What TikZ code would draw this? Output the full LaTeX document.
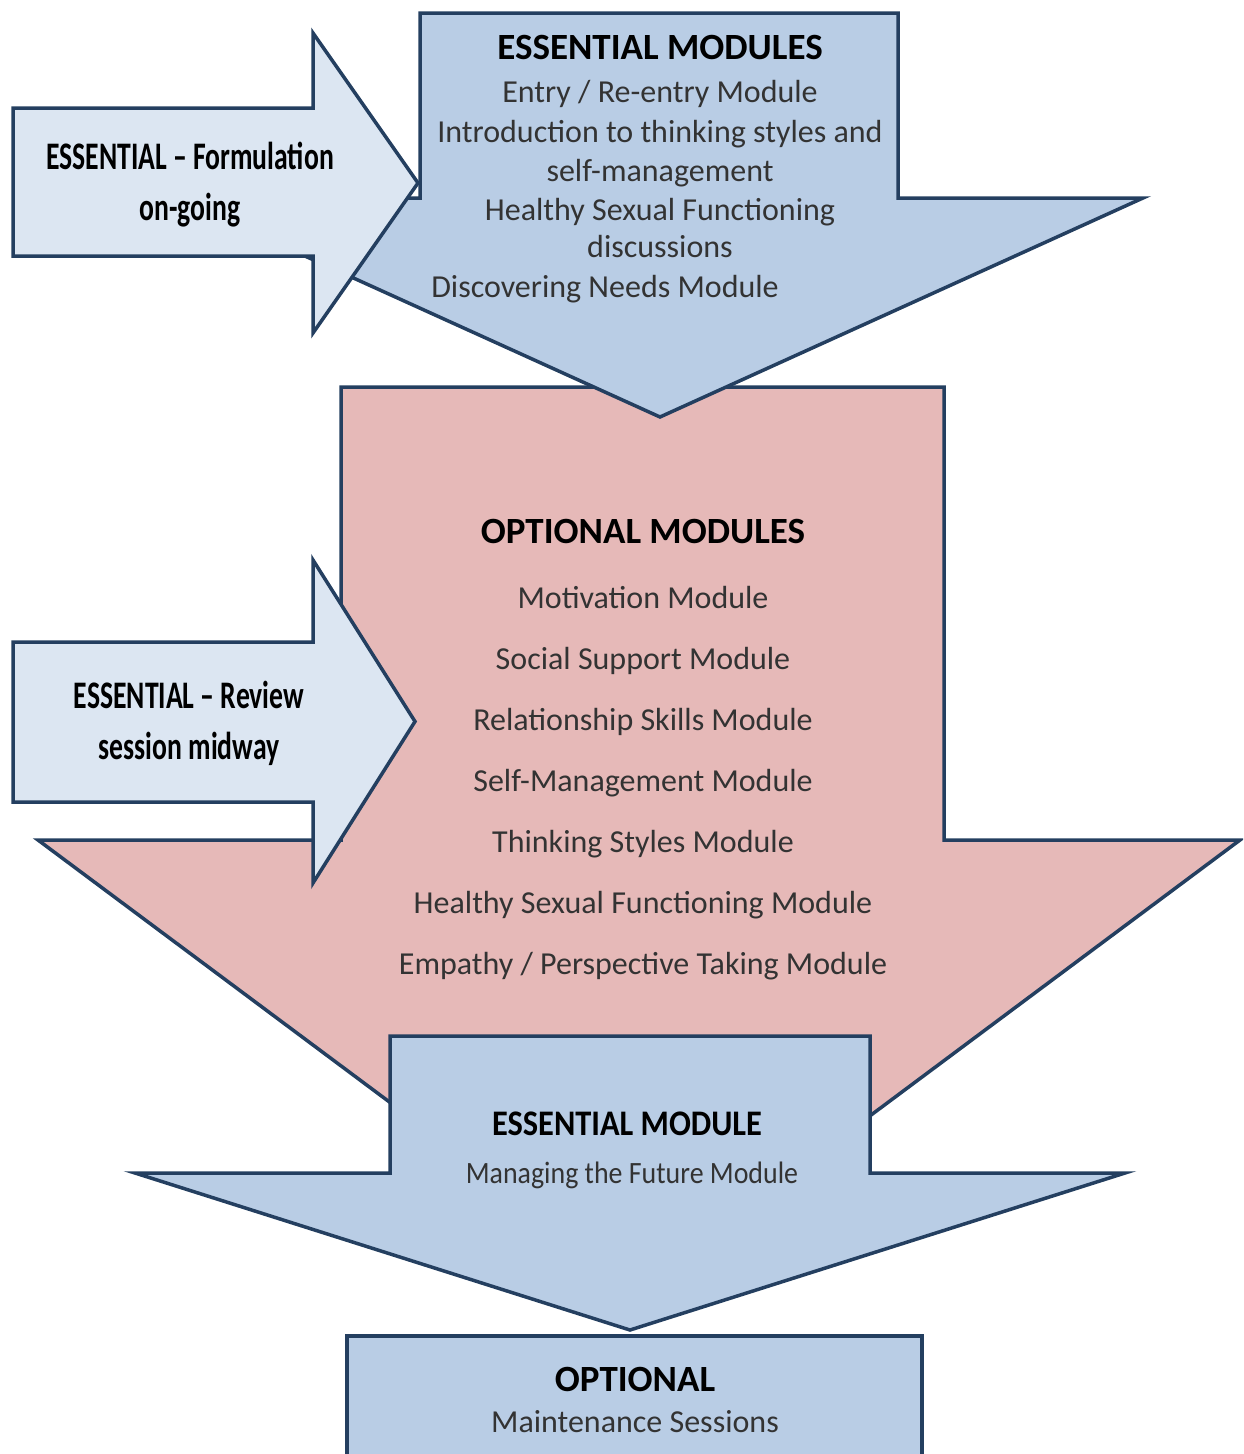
\documentclass[tikz,border=0pt]{standalone}
\usepackage{fontspec}
\setmainfont{Carlito}
\newfontfamily\sidefont[FakeStretch=0.71]{Carlito}
\newfontfamily\lowfont[FakeStretch=0.9]{Carlito}

\definecolor{modedge}{HTML}{243F60}
\definecolor{modblue}{HTML}{B9CDE5}
\definecolor{modpale}{HTML}{DCE6F2}
\definecolor{modpink}{HTML}{E6B9B8}

\newcommand\modborder{[line width=3.5pt, draw=modedge, line join=miter]}
\newcommand\modtitlestyle{\fontsize{37}{44}\selectfont\bfseries\color{black}}
\newcommand\moditemstyle{\fontsize{32}{39}\selectfont\color{black!80}}
\newcommand\modsidestyle{\sidefont\fontsize{39}{48}\selectfont\bfseries\color{black}}
\newcommand\modlowtitlestyle{\lowfont\fontsize{36}{42}\selectfont\bfseries\color{black}}
\newcommand\modlowitemstyle{\lowfont\fontsize{31}{38}\selectfont\color{black!80}}

% fill, shaft left, shaft right, top, head y, head left, head right, tip y
\newcommand\moddownarrow[8]{
  \draw\modborder[fill=#1] (#2,#4) -- (#3,#4) -- (#3,#5) -- (#7,#5)
    -- ({(#6+#7)/2},#8) -- (#6,#5) -- (#2,#5) -- cycle ;
}
% left, shaft right, shaft top, shaft bottom, head top, head bottom, tip x
\newcommand\modrightarrow[7]{
  \draw\modborder[fill=modpale] (#1,#3) -- (#2,#3) -- (#2,#5)
    -- (#7,{(#5+#6)/2}) -- (#2,#6) -- (#2,#4) -- (#1,#4) -- cycle ;
}

\begin{document}
\begin{tikzpicture}[x=1pt, y=-1pt, every node/.style={anchor=mid, yshift=-9pt, inner sep=0pt}]
    \useasboundingbox (0,0) rectangle (1243,1454) ;
    \clip (0,0) rectangle (1243,1454) ;
    \moddownarrow{modpink}{341}{944}{387}{840}{38}{1240}{1288}
    \moddownarrow{modblue}{420}{898}{13}{198}{177}{1143}{417}
    \modrightarrow{13}{313}{108}{256}{33}{333}{418}
    \modrightarrow{13}{313}{642}{802}{560}{883}{415}
    \moddownarrow{modblue}{390}{870}{1036}{1173}{135}{1125}{1330}
    \draw\modborder[fill=modblue] (347,1336) rectangle (922,1480) ;
    % top
    \node (esstitle) at (660,48) {\modtitlestyle ESSENTIAL MODULES} ;
    \node (entry) at (660,91) {\moditemstyle Entry / Re-entry Module} ;
    \node (intro) at (660,131) {\moditemstyle Introduction to thinking styles and} ;
    \node (selfman) at (660,170) {\moditemstyle self-management} ;
    \node (hsf) at (660,209) {\moditemstyle Healthy Sexual Functioning} ;
    \node (discuss) at (660,246) {\moditemstyle discussions} ;
    \node (needs) at (605,286) {\moditemstyle Discovering Needs Module} ;
    % side arrows
    \node (formul) at (190,158) {\modsidestyle ESSENTIAL – Formulation} ;
    \node (ongoing) at (190,209) {\modsidestyle on-going} ;
    \node (review) at (189,697) {\modsidestyle ESSENTIAL – Review} ;
    \node (midway) at (189,748) {\modsidestyle session midway} ;
    % optional
    \node (opttitle) at (643,532) {\modtitlestyle OPTIONAL MODULES} ;
    \foreach \name [count=\i] in {Motivation Module, Social Support Module,
        Relationship Skills Module, Self-Management Module, Thinking Styles Module,
        Healthy Sexual Functioning Module, Empathy / Perspective Taking Module}
      \node (opt\i) at (643,536+61*\i) {\moditemstyle \name} ;
    % bottom
    \node (lowtitle) at (627,1124) {\modlowtitlestyle ESSENTIAL MODULE} ;
    \node (future) at (632,1172) {\modlowitemstyle Managing the Future Module} ;
    \node (maintitle) at (635,1380) {\modtitlestyle OPTIONAL} ;
    \node (maint) at (635,1421) {\moditemstyle Maintenance Sessions} ;
\end{tikzpicture}
\end{document}
